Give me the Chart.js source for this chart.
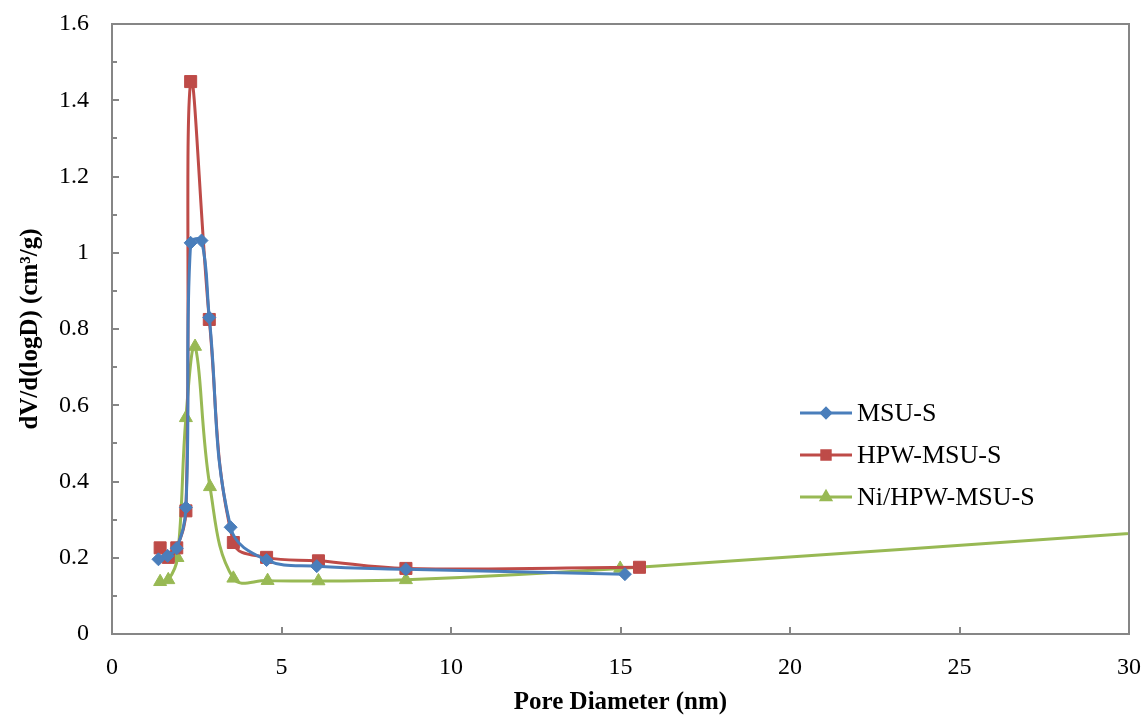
<!DOCTYPE html>
<html>
<head>
<meta charset="utf-8">
<script src="https://cdn.jsdelivr.net/npm/chart.js@4.4.1/dist/chart.umd.min.js"></script>
<style>
  html, body { margin: 0; padding: 0; background: #fff; }
  #wrap { width: 1143px; height: 724px; }
</style>
</head>
<body>
<div id="wrap"><canvas id="myChart"></canvas></div>
<script>
// series
const names = ['MSU-S', 'HPW-MSU-S', 'Ni/HPW-MSU-S'];

const msuX = [1.37, 1.64, 1.91, 2.18, 2.32, 2.64, 2.87, 3.50, 4.56, 6.04, 8.67, 15.13];
const msuY = [0.196, 0.205, 0.225, 0.332, 1.026, 1.032, 0.830, 0.280, 0.194, 0.178, 0.170, 0.157];

const hpwX = [1.42, 1.66, 1.91, 2.18, 2.32, 2.87, 3.58, 4.56, 6.09, 8.67, 15.56];
const hpwY = [0.226, 0.201, 0.226, 0.323, 1.449, 0.825, 0.240, 0.201, 0.192, 0.172, 0.175];

const niX = [1.42, 1.66, 1.93, 2.18, 2.45, 2.89, 3.58, 4.59, 6.09, 8.67, 14.99, 31.5];
const niY = [0.137, 0.142, 0.200, 0.567, 0.754, 0.386, 0.146, 0.140, 0.139, 0.142, 0.172, 0.273];

const colors = ['#4A7EBB', '#BE4B48', '#98B954'];
const markers = ['rectRot', 'rect', 'triangle'];
const radii = [6.5, 8.5, 7.5];

const xTicks = [0, 5, 10, 15, 20, 25, 30];
const yMax = 1.6;

function pts(xs, ys) {
    return xs.map((x, i) => ({x: x, y: ys[i]}));
}

const serif = "'Liberation Serif', 'Times New Roman', serif";
const axisGrey = '#868686';

// border, inner tick marks and the legend
const frame = {
    id: 'frame',
    afterDatasetsDraw(chart) {
        const c = chart.ctx;
        const a = chart.chartArea;
        const xs = chart.scales.x, ys = chart.scales.y;
        c.save();
        c.strokeStyle = axisGrey;
        c.lineWidth = 2;
        c.strokeRect(a.left, a.top, a.right - a.left, a.bottom - a.top);
        c.beginPath();
        for (let i = 1; i < 16; i++) {
            let py = Math.round(ys.getPixelForValue(i / 10));
            let len = i % 2 == 0 ? 7 : 5;
            c.moveTo(a.left, py);
            c.lineTo(a.left + len, py);
        }
        xTicks.slice(1, -1).forEach(v => {
            let px = Math.round(xs.getPixelForValue(v));
            c.moveTo(px, a.bottom);
            c.lineTo(px, a.bottom - 7);
        });
        c.stroke();

        // legend
        const rows = [413, 455, 497];
        c.font = '26px ' + serif;
        c.textBaseline = 'middle';
        names.forEach((n, i) => {
            c.strokeStyle = colors[i];
            c.fillStyle = colors[i];
            c.lineWidth = 3;
            c.beginPath();
            c.moveTo(800, rows[i]);
            c.lineTo(852, rows[i]);
            c.stroke();
            Chart.helpers.drawPoint(c, {pointStyle: markers[i], radius: radii[i] * 0.7, borderWidth: 1}, 826, rows[i]);
            c.fillStyle = '#000';
            c.fillText(n, 857, rows[i] + 1);
        });
        c.restore();
    }
};

const ctx = document.getElementById('myChart');
new Chart(ctx, {
    type: 'scatter',
    data: {
        datasets: [
            pts(msuX, msuY), pts(hpwX, hpwY), pts(niX, niY)
        ].map((d, i) => ({
            label: names[i],
            data: d,
            showLine: true,
            tension: 0.4,
            borderColor: colors[i],
            backgroundColor: colors[i],
            borderWidth: 3,
            pointStyle: markers[i],
            pointRadius: radii[i],
            pointBorderWidth: 1,
            pointHoverRadius: radii[i],
            clip: 0
        }))
    },
    options: {
        responsive: true,
        maintainAspectRatio: false,
        animation: false,
        layout: { padding: { left: 0, right: 14, top: 24, bottom: 0 } },
        plugins: { legend: { display: false }, tooltip: { enabled: false } },
        scales: {
            x: {
                type: 'linear',
                min: 0, max: 30,
                grid: { display: false, drawTicks: false },
                border: { display: false },
                ticks: { stepSize: 5, padding: 19, color: '#000', font: { family: serif, size: 24 } },
                title: { display: true, text: 'Pore Diameter (nm)', color: '#000', padding: { top: 0, bottom: 6 },
                         font: { family: serif, size: 25, weight: 'bold' } },
                afterFit(s) { s.height = 90; s.paddingLeft = 0; s.paddingRight = 0; }
            },
            y: {
                min: 0, max: yMax,
                grid: { display: false, drawTicks: false },
                border: { display: false },
                ticks: { stepSize: 0.2, padding: 23, color: '#000', font: { family: serif, size: 24 },
                         callback: v => String(Math.round(v * 10) / 10) },
                title: { display: true, text: 'dV/d(logD) (cm³/g)', color: '#000', padding: { top: 16, bottom: 0 },
                         font: { family: serif, size: 25, weight: 'bold' } },
                afterFit(s) { s.width = 112; s.paddingTop = 0; s.paddingBottom = 0; }
            }
        }
    },
    plugins: [frame]
});
</script>
</body>
</html>
